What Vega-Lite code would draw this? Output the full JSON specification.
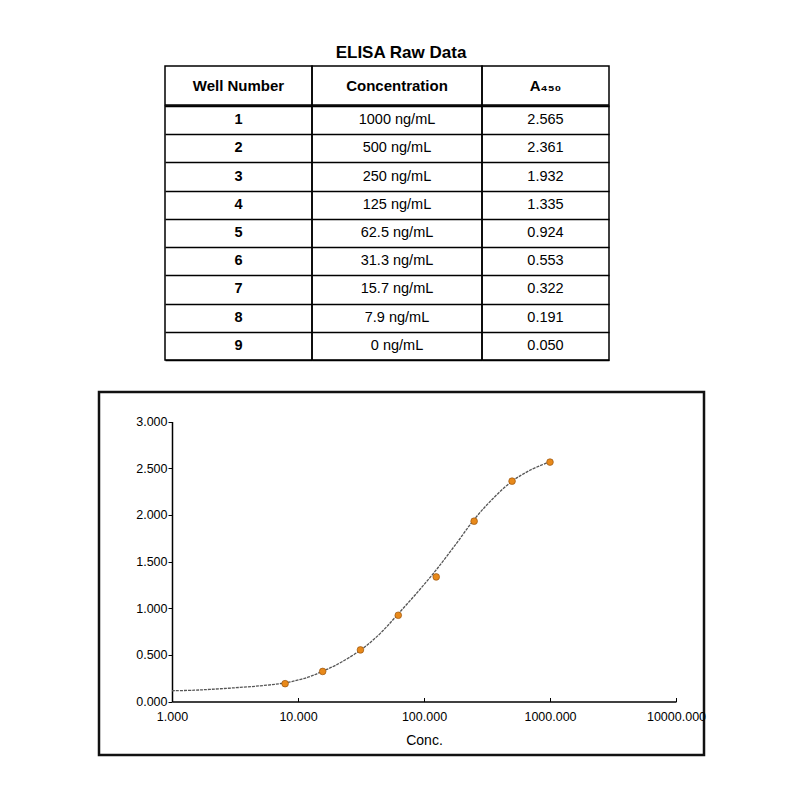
{
  "$schema": "https://vega.github.io/schema/vega-lite/v6.json",
  "description": "ELISA raw data table and standard curve (A450 vs concentration, log scale).",
  "padding": {"left": 97, "top": 44, "right": 0, "bottom": 0},
  "config": {
    "font": "Liberation Sans",
    "view": {"stroke": "black", "strokeWidth": 1.5},
    "text": {"color": "black"}
  },
  "datasets": {
    "elisa": [
      {"Well": 1, "Concentration": "1000 ng/mL", "conc": 1000, "A450": 2.565},
      {"Well": 2, "Concentration": "500 ng/mL", "conc": 500, "A450": 2.361},
      {"Well": 3, "Concentration": "250 ng/mL", "conc": 250, "A450": 1.932},
      {"Well": 4, "Concentration": "125 ng/mL", "conc": 125, "A450": 1.335},
      {"Well": 5, "Concentration": "62.5 ng/mL", "conc": 62.5, "A450": 0.924},
      {"Well": 6, "Concentration": "31.3 ng/mL", "conc": 31.3, "A450": 0.553},
      {"Well": 7, "Concentration": "15.7 ng/mL", "conc": 15.7, "A450": 0.322},
      {"Well": 8, "Concentration": "7.9 ng/mL", "conc": 7.9, "A450": 0.191},
      {"Well": 9, "Concentration": "0 ng/mL", "conc": 0, "A450": 0.05}
    ],
    "header": [
      {"col": 1, "label": "Well Number"},
      {"col": 2, "label": "Concentration"},
      {"col": 3, "label": "A₄₅₀"}
    ],
    "fit": [
      {"conc": 1, "od": 0.115},
      {"conc": 1.5, "od": 0.121},
      {"conc": 2, "od": 0.13},
      {"conc": 3, "od": 0.145},
      {"conc": 5, "od": 0.168},
      {"conc": 7.9, "od": 0.2},
      {"conc": 12, "od": 0.26},
      {"conc": 15.7, "od": 0.325},
      {"conc": 20, "od": 0.39},
      {"conc": 31.3, "od": 0.55},
      {"conc": 45, "od": 0.73},
      {"conc": 62.5, "od": 0.94},
      {"conc": 90, "od": 1.18},
      {"conc": 125, "od": 1.41},
      {"conc": 180, "od": 1.69},
      {"conc": 250, "od": 1.95},
      {"conc": 350, "od": 2.17},
      {"conc": 500, "od": 2.36},
      {"conc": 700, "od": 2.48},
      {"conc": 1000, "od": 2.57}
    ]
  },
  "spacing": 29,
  "vconcat": [
    {
      "title": {
        "text": "ELISA Raw Data",
        "fontSize": 17,
        "fontWeight": "bold",
        "anchor": "start",
        "align": "center",
        "frame": "group",
        "dx": 302,
        "baseline": "alphabetic",
        "offset": -10,
        "color": "black"
      },
      "spacing": -1.5,
      "vconcat": [
        {
          "bounds": "flush",
          "spacing": 0,
          "hconcat": [
            {
              "width": 66,
              "height": 39,
              "view": {"stroke": null},
              "data": {"name": "header"},
              "transform": [{"filter": "false"}],
              "mark": "text",
              "encoding": {"text": {"field": "label", "type": "nominal"}}
            },
            {
              "width": 147,
              "height": 39,
              "data": {"name": "header"},
              "transform": [{"filter": "datum.col == 1"}],
              "mark": {"type": "text", "fontSize": 15, "fontWeight": "bold", "baseline": "middle"},
              "encoding": {
                "y": {"field": "col", "type": "nominal", "scale": {"paddingInner": 0, "paddingOuter": 0}, "axis": null},
                "text": {"field": "label", "type": "nominal"}
              }
            },
            {
              "width": 170,
              "height": 39,
              "data": {"name": "header"},
              "transform": [{"filter": "datum.col == 2"}],
              "mark": {"type": "text", "fontSize": 15, "fontWeight": "bold", "baseline": "middle"},
              "encoding": {
                "y": {"field": "col", "type": "nominal", "scale": {"paddingInner": 0, "paddingOuter": 0}, "axis": null},
                "text": {"field": "label", "type": "nominal"}
              }
            },
            {
              "width": 127,
              "height": 39,
              "data": {"name": "header"},
              "transform": [{"filter": "datum.col == 3"}],
              "mark": {"type": "text", "fontSize": 15, "fontWeight": "bold", "baseline": "middle"},
              "encoding": {
                "y": {"field": "col", "type": "nominal", "scale": {"paddingInner": 0, "paddingOuter": 0}, "axis": null},
                "text": {"field": "label", "type": "nominal"}
              }
            }
          ]
        },
        {
          "bounds": "flush",
          "spacing": 0,
          "hconcat": [
            {
              "width": 66,
              "height": 254,
              "view": {"stroke": null},
              "data": {"name": "header"},
              "transform": [{"filter": "false"}],
              "mark": "text",
              "encoding": {"text": {"field": "label", "type": "nominal"}}
            },
            {
              "width": 147,
              "height": 254,
              "data": {"name": "elisa"},
              "mark": {"type": "text", "fontSize": 14.5, "fontWeight": "bold", "baseline": "middle"},
              "encoding": {
                "y": {
                  "field": "Well",
                  "type": "nominal",
                  "scale": {"paddingInner": 0, "paddingOuter": 0},
                  "axis": {"labels": false, "ticks": false, "domain": false, "grid": true, "tickBand": "extent", "gridColor": "black", "gridWidth": 1.5, "gridOpacity": 1, "title": null}
                },
                "text": {"field": "Well", "type": "nominal"}
              }
            },
            {
              "width": 170,
              "height": 254,
              "data": {"name": "elisa"},
              "mark": {"type": "text", "fontSize": 14.5, "baseline": "middle"},
              "encoding": {
                "y": {
                  "field": "Well",
                  "type": "nominal",
                  "scale": {"paddingInner": 0, "paddingOuter": 0},
                  "axis": {"labels": false, "ticks": false, "domain": false, "grid": true, "tickBand": "extent", "gridColor": "black", "gridWidth": 1.5, "gridOpacity": 1, "title": null}
                },
                "text": {"field": "Concentration", "type": "nominal"}
              }
            },
            {
              "width": 127,
              "height": 254,
              "data": {"name": "elisa"},
              "mark": {"type": "text", "fontSize": 14.5, "baseline": "middle"},
              "encoding": {
                "y": {
                  "field": "Well",
                  "type": "nominal",
                  "scale": {"paddingInner": 0, "paddingOuter": 0},
                  "axis": {"labels": false, "ticks": false, "domain": false, "grid": true, "tickBand": "extent", "gridColor": "black", "gridWidth": 1.5, "gridOpacity": 1, "title": null}
                },
                "text": {"field": "A450", "type": "quantitative", "format": ".3f"}
              }
            }
          ]
        }
      ]
    },
    {
      "width": 605,
      "height": 363,
      "view": {"stroke": "#111", "strokeWidth": 2.5},
      "layer": [
        {
          "data": {"name": "fit"},
          "mark": {"type": "line", "color": "#555", "strokeWidth": 1.3, "strokeDash": [3, 1], "interpolate": "catmull-rom"},
          "encoding": {
            "x": {
              "field": "conc",
              "type": "quantitative",
              "title": "Conc.",
              "scale": {"type": "log", "domain": [1, 10000], "range": [73, 577]},
              "axis": {
                "values": [1, 10, 100, 1000, 10000],
                "format": ".3f",
                "offset": -53.5,
                "grid": false,
                "tickSize": -4,
                "tickColor": "black",
                "domainColor": "black",
                "domainWidth": 1.5,
                "labelPadding": 13,
                "labelFontSize": 12.5,
                "labelColor": "black",
                "labelFlush": false,
                "labelOverlap": false,
                "titleFontSize": 14,
                "titleFontWeight": "normal",
                "titleColor": "black",
                "titlePadding": 10
              }
            },
            "y": {
              "field": "od",
              "type": "quantitative",
              "title": null,
              "scale": {"domain": [0, 3], "range": [309.5, 29.5], "nice": false, "zero": false},
              "axis": {
                "values": [0, 0.5, 1, 1.5, 2, 2.5, 3],
                "format": ".3f",
                "offset": -73,
                "grid": false,
                "tickSize": 4,
                "tickColor": "black",
                "domainColor": "black",
                "domainWidth": 1.5,
                "labelPadding": 1,
                "labelFontSize": 12.5,
                "labelColor": "black"
              }
            }
          }
        },
        {
          "data": {"name": "elisa"},
          "transform": [{"filter": "datum.conc > 0"}],
          "mark": {"type": "point", "shape": "circle", "filled": true, "size": 45, "color": "#E8891A", "stroke": "#8B4A0A", "strokeWidth": 0.6, "opacity": 1},
          "encoding": {
            "x": {"field": "conc", "type": "quantitative", "title": "Conc."},
            "y": {"field": "A450", "type": "quantitative", "title": null}
          }
        }
      ]
    }
  ]
}
